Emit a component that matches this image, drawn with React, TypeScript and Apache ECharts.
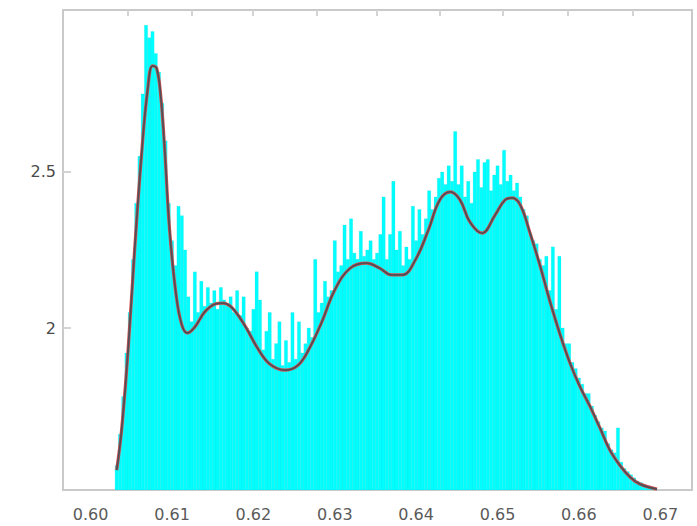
import React, { useEffect, useRef } from "react";
import * as echarts from "echarts";

// Histogram bins (left edge of first bin and bin width)
const binStart = 0.603;
const binWidth = 0.0004;
const histValues = [
  1.56, 1.66, 1.78, 1.92, 2.05, 2.22, 2.40, 2.55, 2.75, 2.97,
  2.93, 2.95, 2.88, 2.82, 2.72, 2.60, 2.40, 2.28, 2.20, 2.39,
  2.36, 2.25, 2.10, 2.02, 2.18, 2.05, 2.15, 2.07, 2.13, 2.08,
  2.12, 2.06, 2.13, 2.09, 2.07, 2.10, 2.05, 2.12, 2.04, 2.10,
  2.00, 1.99, 2.06, 2.18, 2.09, 1.93, 1.99, 2.05, 1.90, 1.95,
  2.02, 1.88, 1.96, 1.89, 2.05, 1.90, 2.02, 1.92, 1.95, 2.00,
  1.97, 2.22, 2.05, 2.08, 2.15, 2.10, 2.12, 2.28, 2.18, 2.20,
  2.33, 2.22, 2.35, 2.24, 2.22, 2.31, 2.23, 2.25, 2.28, 2.22,
  2.24, 2.30, 2.42, 2.22, 2.30, 2.47, 2.25, 2.31, 2.20, 2.26,
  2.22, 2.39, 2.28, 2.38, 2.30, 2.35, 2.44, 2.38, 2.42, 2.48,
  2.50, 2.46, 2.52, 2.47, 2.63, 2.46, 2.52, 2.42, 2.47, 2.40,
  2.50, 2.54, 2.45, 2.53, 2.54, 2.44, 2.49, 2.52, 2.46, 2.57,
  2.47, 2.49, 2.44, 2.465, 2.42, 2.38, 2.36, 2.30, 2.28, 2.27,
  2.22, 2.20, 2.23, 2.12, 2.26, 2.06, 2.23, 2.00, 1.95, 1.95,
  1.89, 1.87, 1.84, 1.82, 1.79, 1.79, 1.75, 1.72, 1.70, 1.68,
  1.67, 1.63, 1.61, 1.60, 1.68, 1.57, 1.55, 1.54, 1.53, 1.52,
  1.51, 1.505, 1.50, 1.495, 1.49, 1.488
];

// Smooth fitted density curve
const curveX = [
  0.6032, 0.6038, 0.6046, 0.6054, 0.6063, 0.6070, 0.6076, 0.6081, 0.6086, 0.6091,
  0.6097, 0.6105, 0.6112, 0.6119, 0.6128, 0.6140, 0.6153, 0.6162, 0.6173, 0.6189,
  0.6205, 0.6220, 0.6239, 0.6255, 0.6269, 0.6284, 0.6300, 0.6319, 0.6339, 0.6355,
  0.6370, 0.6383, 0.6399, 0.6415, 0.6429, 0.6442, 0.6454, 0.6466, 0.6481, 0.6497,
  0.6509, 0.6518, 0.6528, 0.6540, 0.6552, 0.6565, 0.6577, 0.6589, 0.6601, 0.6614,
  0.6626, 0.6638, 0.6651, 0.6663, 0.6675, 0.6696
];
const curveY = [
  1.545, 1.673, 1.930, 2.250, 2.571, 2.763, 2.840, 2.833, 2.747, 2.571,
  2.314, 2.106, 2.010, 1.984, 2.003, 2.051, 2.077, 2.080, 2.067, 2.010,
  1.936, 1.885, 1.865, 1.881, 1.936, 2.019, 2.122, 2.192, 2.208, 2.192,
  2.170, 2.170, 2.218, 2.314, 2.410, 2.436, 2.410, 2.340, 2.304, 2.362,
  2.410, 2.417, 2.394, 2.304, 2.202, 2.080, 1.978, 1.888, 1.814, 1.747,
  1.679, 1.609, 1.558, 1.522, 1.500, 1.484
];

// Axis ticks / labels
const xTickLabels = [0.6, 0.61, 0.62, 0.63, 0.64, 0.65, 0.66, 0.67];
const yTickLabels = [2, 2.5];
const topTicks = [0.6046, 0.6124, 0.6199, 0.6278, 0.6352, 0.6429, 0.6507, 0.6586, 0.6666];

const xMin = 0.5966;
const xMax = 0.6739;
const yMin = 1.481;
const yMax = 3.019;

export default function App() {
  const ref = useRef<HTMLDivElement>(null);

  useEffect(() => {
    if (!ref.current) return;
    const chart = echarts.init(ref.current, undefined, { renderer: "svg" });
    const barData = histValues.map((v, i) => [
      binStart + i * binWidth,
      binStart + (i + 1) * binWidth,
      v,
    ]);
    const curveData = curveX.map((x, i) => [x, curveY[i]]);
    const labelFont = "DejaVu Sans, Verdana, sans-serif";

    chart.setOption({
      animation: false,
      backgroundColor: "#ffffff",
      grid: {
        left: 63,
        top: 10,
        right: 5,
        bottom: 36,
        show: true,
        borderColor: "#c9c9c9",
        borderWidth: 2,
        backgroundColor: "transparent",
      },
      xAxis: [
        {
          type: "value",
          min: xMin,
          max: xMax,
          splitLine: { show: false },
          axisLine: { show: false },
          axisTick: { show: false },
          axisLabel: {
            customValues: xTickLabels,
            formatter: (v: number) => v.toFixed(2),
            color: "#5a5a5a",
            fontSize: 16,
            fontFamily: labelFont,
            margin: 16,
          },
        },
        {
          type: "value",
          position: "top",
          min: xMin,
          max: xMax,
          splitLine: { show: false },
          axisLine: { show: false },
          axisLabel: { show: false },
          axisTick: {
            show: true,
            inside: true,
            length: 6,
            customValues: topTicks,
            lineStyle: { color: "#d4d4d4", width: 2 },
          },
        },
      ],
      yAxis: {
        type: "value",
        min: yMin,
        max: yMax,
        splitLine: { show: false },
        axisLine: { show: false },
        axisTick: {
          show: true,
          inside: true,
          length: 8,
          customValues: yTickLabels,
          lineStyle: { color: "#d4d4d4", width: 2 },
        },
        axisLabel: {
          customValues: yTickLabels,
          formatter: (v: number) => String(v),
          color: "#4a4a4a",
          fontSize: 16,
          fontFamily: labelFont,
          margin: 7,
        },
      },
      series: [
        {
          type: "custom",
          xAxisIndex: 0,
          clip: true,
          encode: { x: [0, 1], y: 2 },
          data: barData,
          renderItem: (params: any, api: any) => {
            const p0 = api.coord([api.value(0), api.value(2)]);
            const p1 = api.coord([api.value(1), yMin]);
            return {
              type: "rect",
              shape: {
                x: p0[0],
                y: p0[1],
                width: p1[0] - p0[0],
                height: p1[1] - p0[1],
              },
              style: {
                fill: "#00ffff",
                stroke: "rgba(0,200,210,0.35)",
                lineWidth: 0.5,
              },
            };
          },
        },
        {
          type: "line",
          xAxisIndex: 0,
          data: curveData,
          smooth: 0.4,
          showSymbol: false,
          lineStyle: { color: "#d65050", width: 3.2 },
        },
        {
          type: "line",
          xAxisIndex: 0,
          data: curveData,
          smooth: 0.4,
          showSymbol: false,
          lineStyle: { color: "#4e5058", width: 1.8 },
        },
      ],
    });

    return () => chart.dispose();
  }, []);

  return <div ref={ref} style={{ width: 697, height: 526, position: "absolute", left: 0, top: 0 }} />;
}
